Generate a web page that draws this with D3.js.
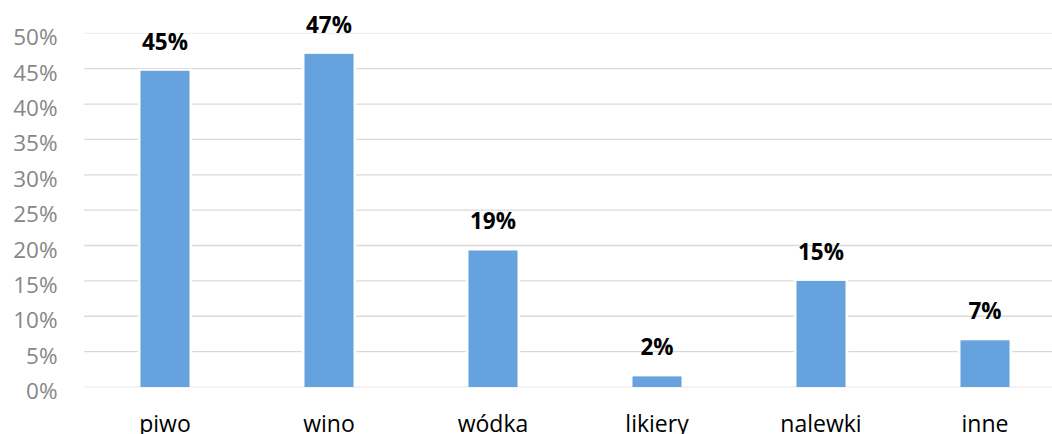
<!DOCTYPE html>
<html>
<head>
<meta charset="utf-8">
<script src="https://cdn.jsdelivr.net/npm/d3@7"></script>
<style>
  html, body { margin: 0; padding: 0; background: #fff; }
  svg { display: block; }
</style>
</head>
<body>
<svg id="chart" width="1052" height="434"></svg>
<script>
// Napoje alkoholowe – udział odpowiedzi (%)
const categories = ["piwo", "wino", "wódka", "likiery", "nalewki", "inne"];
const shares = [44.7, 47.1, 19.3, 1.5, 15.0, 6.6];
const yTicks = [0, 5, 10, 15, 20, 25, 30, 35, 40, 45, 50];

const svg = d3.select("#chart");
const W = 1052, H = 434;

const plot = { left: 83, right: 1067, top: 33.3, bottom: 387 };

const x = d3.scaleBand()
  .domain(categories)
  .range([plot.left, plot.right])
  .paddingInner(0)
  .paddingOuter(0);

const y = d3.scaleLinear()
  .domain([0, 50])
  .range([plot.bottom, plot.top]);

const barW = x.step() * 0.299;

// gridlines
svg.append("g")
  .selectAll("line")
  .data(yTicks)
  .join("line")
  .attr("x1", plot.left + 1)
  .attr("x2", W)
  .attr("y1", d => y(d))
  .attr("y2", d => y(d))
  .attr("stroke", d => (d === 0 || d === 50) ? "#efefef" : "#d9d9d9")
  .attr("stroke-width", 1.3);

// y-axis tick labels
svg.append("g")
  .selectAll("text")
  .data(yTicks)
  .join("text")
  .attr("x", 57.5)
  .attr("y", d => y(d) + 12)
  .attr("text-anchor", "end")
  .attr("font-family", "'Open Sans', sans-serif")
  .attr("font-size", 22.5)
  .attr("fill", "#878787")
  .text(d => d + "%");

const bars = svg.append("g")
  .selectAll("g")
  .data(categories.map((c, i) => ({ c, v: shares[i] })))
  .join("g");

// white halo that interrupts gridlines around each bar
bars.append("rect")
  .attr("x", d => x(d.c) + x.bandwidth() / 2 - barW / 2 - 2.6)
  .attr("width", barW + 5.2)
  .attr("y", d => y(d.v) - 2)
  .attr("height", d => y(0) - y(d.v) + 1.2)
  .attr("fill", "#fff");

bars.append("rect")
  .attr("x", d => x(d.c) + x.bandwidth() / 2 - barW / 2)
  .attr("width", barW)
  .attr("y", d => y(d.v))
  .attr("height", d => y(0) - y(d.v))
  .attr("fill", "#65a2de");

// value labels
bars.append("text")
  .attr("x", d => x(d.c) + x.bandwidth() / 2)
  .attr("y", d => y(d.v) - 21)
  .attr("text-anchor", "middle")
  .attr("font-family", "'Open Sans', sans-serif")
  .attr("font-weight", "bold")
  .attr("font-size", 22.5)
  .attr("fill", "#000")
  .text(d => Math.round(d.v) + "%");

// category labels
svg.append("g")
  .selectAll("text")
  .data(categories)
  .join("text")
  .attr("x", d => x(d) + x.bandwidth() / 2)
  .attr("y", 432)
  .attr("text-anchor", "middle")
  .attr("font-family", "'Open Sans', sans-serif")
  .attr("font-size", 23)
  .attr("fill", "#000")
  .text(d => d);
</script>
</body>
</html>
